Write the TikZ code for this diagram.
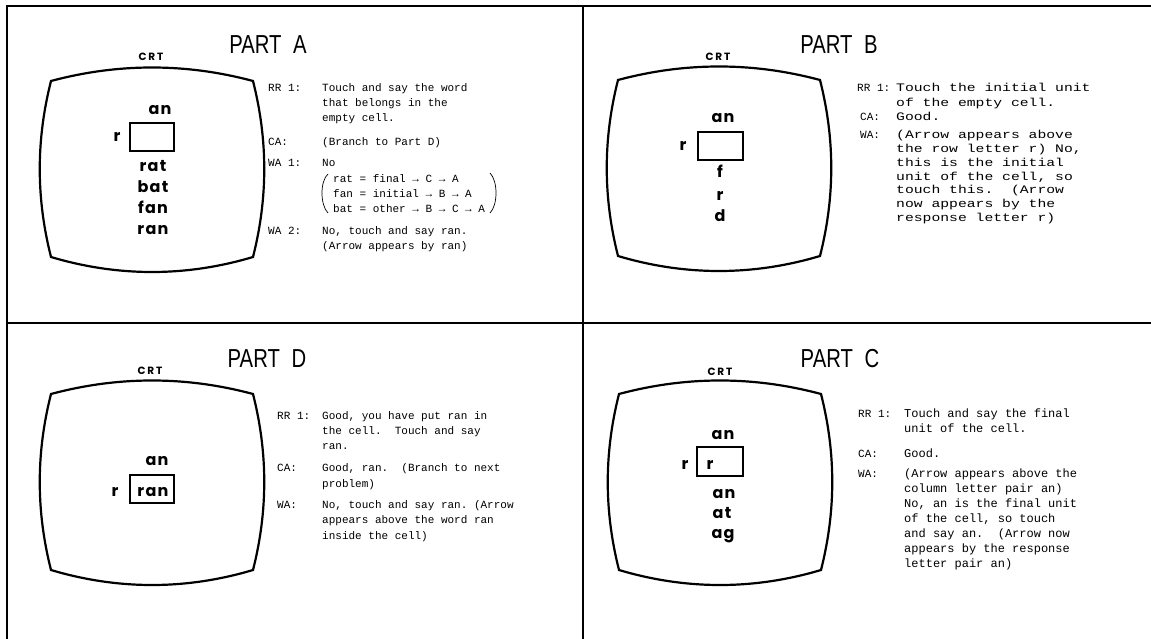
\documentclass[tikz,border=0pt]{standalone}
\usepackage{fontspec}
\setmainfont{Liberation Serif}
\newfontfamily\tyfont{Liberation Mono}
\newfontfamily\tywide{Liberation Mono}[FakeStretch=1.28]
\newfontfamily\crtfont{Poppins}[LetterSpace=8]
\newfontfamily\crtlabfont{Poppins}[LetterSpace=18]
\newfontfamily\titlefont{Liberation Sans}[FakeStretch=0.78]
\newcommand\tbl[3]{{\fontsize{#1}{#2}\selectfont\begin{tabular}[t]{@{}l@{}}#3\end{tabular}}}
\frenchspacing
\begin{document}
\begin{tikzpicture}[x=1pt,y=-1pt,
  frame/.style={line width=1.6pt},
  crtline/.style={line width=2.2pt, line join=miter},
  cellbox/.style={draw, line width=1.6pt, minimum width=44pt, minimum height=28pt, inner sep=0pt},
  word/.style={font=\crtfont\bfseries\fontsize{16}{16}\selectfont, inner sep=0pt, anchor=base},
  crtlabel/.style={font=\crtlabfont\bfseries\fontsize{10.5}{10.5}\selectfont, inner sep=0pt, anchor=base},
  title/.style={font=\titlefont\fontsize{26}{26}\selectfont, inner sep=0pt, anchor=base},
  txt/.style={font=\tyfont\fontsize{11}{15}\selectfont, anchor=base west, inner sep=0pt},
  txtwide/.style={txt, font=\tywide\fontsize{11.5}{14}\selectfont},
  crt/.pic={\draw[crtline] (-101,-88) .. controls (-34,-106) and (34,-106) .. (101,-88)
     .. controls (116,-29) and (116,29) .. (101,88)
     .. controls (34,108) and (-34,108) .. (-101,88)
     .. controls (-116,29) and (-116,-29) .. cycle;}
]
\useasboundingbox (0,0) rectangle (1151,639);
\fill[white] (0,0) rectangle (1151,639);
% frame
\draw[frame] (7,639) -- (7,6) -- (1151,6);
\draw[frame] (583,6) -- (583,639);
\draw[frame] (7,323) -- (1151,323);

% ---------------- PART A ----------------
\node[title] (tA) at (268,54) {PART\hspace{0.45em}A};
\node[crtlabel] (cA) at (151,61) {CRT};
\pic at (152,169) {crt};
\node[word] (anA) at (160,115) {an};
\node[cellbox] (boxA) at (152,137) {};
\node[word] (rA) at (117,142) {r};
\node[word] (w1A) at (153,172) {rat};
\node[word] (w2A) at (153,193) {bat};
\node[word] (w3A) at (153,214) {fan};
\node[word] (w4A) at (153,235) {ran};

\node[txt] (rrA) at (268,92) {RR 1:};
\node[txt] (rrAt) at (322,92) {\tbl{11}{15}{Touch and say the word\\that belongs in the\\empty cell.}};
\node[txt] (caA) at (268,146) {CA:};
\node[txt] (caAt) at (322,146) {(Branch to Part D)};
\node[txt] (waA) at (268,167) {WA 1:};
\node[txt] (waAt) at (322,167) {No};
\node[txt] (brA) at (333,183) {\tbl{11}{14.5}{rat = final → C → A\\fan = initial → B → A\\bat = other → B → C → A}};
\draw[line width=0.7pt] (328,174) .. controls (320,181) and (320,205) .. (328,213);
\draw[line width=0.7pt] (490,173) .. controls (498,181) and (498,205) .. (490,213);
\node[txt] (wa2A) at (268,234) {WA 2:};
\node[txt] (wa2At) at (322,234) {\tbl{11}{16}{No, touch and say ran.\\(Arrow appears by ran)}};

% ---------------- PART B ----------------
\node[title] (tB) at (839,54) {PART\hspace{0.45em}B};
\node[crtlabel] (cB) at (718,61) {CRT};
\pic at (719,168) {crt};
\node[word] (anB) at (723,123) {an};
\node[cellbox, minimum width=45pt] (boxB) at (720.5,146) {};
\node[word] (rB) at (683,151) {r};
\node[word] (w1B) at (720,178) {f};
\node[word] (w2B) at (720,201) {r};
\node[word] (w3B) at (720,222) {d};

\node[txt] (rrB) at (857,92) {RR 1:};
\node[txtwide] (rrBt) at (896,92) {\tbl{11.5}{15}{Touch the initial unit\\of the empty cell.}};
\node[txt] (caB) at (860,121) {CA:};
\node[txtwide] (caBt) at (896,121) {Good.};
\node[txt] (waB) at (860,139) {WA:};
\node[txtwide] (waBt) at (896,139) {\tbl{11.5}{13.7}{(Arrow appears above\\the row letter r) No,\\this is the initial\\unit of the cell, so\\touch this.~~(Arrow\\now appears by the\\response letter r)}};

% ---------------- PART D ----------------
\node[title] (tD) at (267,367) {PART\hspace{0.45em}D};
\node[crtlabel] (cD) at (150,374) {CRT};
\pic at (152,482) {crt};
\node[word] (anD) at (157,465) {an};
\node[cellbox] (boxD) at (152,489) {};
\node[word] (inD) at (153,496) {ran};
\node[word] (rD) at (115,496) {r};

\node[txt] (rrD) at (277,419) {RR 1:};
\node[txt] (rrDt) at (322,419) {\tbl{11}{15}{Good, you have put ran in\\the cell.~~Touch and say\\ran.}};
\node[txt] (caD) at (277,471) {CA:};
\node[txt] (caDt) at (322,471) {\tbl{11}{16}{Good, ran.~~(Branch to next\\problem)}};
\node[txt] (waD) at (277,508) {WA:};
\node[txt] (waDt) at (322,508) {\tbl{11}{15.5}{No, touch and say ran. (Arrow\\appears above the word ran\\inside the cell)}};

% ---------------- PART C ----------------
\node[title] (tC) at (840,367) {PART\hspace{0.45em}C};
\node[crtlabel] (cC) at (720,375) {CRT};
\pic at (720,482) {crt};
\node[word] (anC) at (723,439) {an};
\node[cellbox, minimum width=46pt, minimum height=29pt] (boxC) at (720,461.5) {};
\node[word] (inC) at (710,469) {r};
\node[word] (rC) at (685,469) {r};
\node[word] (w1C) at (724,498) {an};
\node[word] (w2C) at (722,518) {at};
\node[word] (w3C) at (723,538) {ag};

\node[txt] (rrC) at (858,417) {RR 1:};
\node[txt] (rrCt) at (904,417) {\tbl{12}{15}{Touch and say the final\\unit of the cell.}};
\node[txt] (caC) at (858,457) {CA:};
\node[txt] (caCt) at (904,457) {\fontsize{12}{15}\selectfont Good.};
\node[txt] (waC) at (858,477) {WA:};
\node[txt] (waCt) at (904,477) {\tbl{12}{15}{(Arrow appears above the\\column letter pair an)\\No, an is the final unit\\of the cell, so touch\\and say an.~~(Arrow now\\appears by the response\\letter pair an)}};
\end{tikzpicture}
\end{document}
